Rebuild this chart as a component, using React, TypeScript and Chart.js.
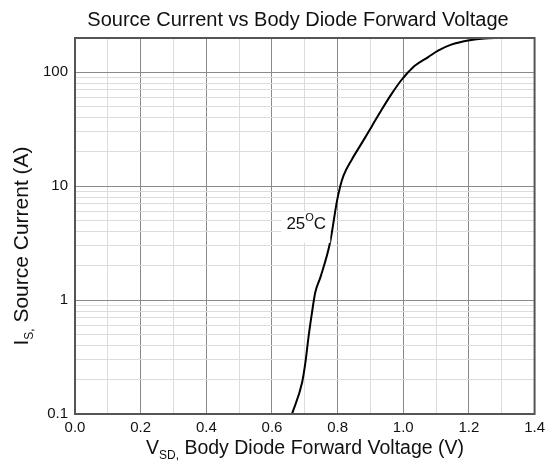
import React, { useEffect, useRef } from "react";
import { Chart, registerables } from "chart.js";

Chart.register(...registerables);

const vsd = [0.661, 0.692, 0.702, 0.712, 0.722, 0.732, 0.748, 0.777, 0.798, 0.808, 0.818, 0.843, 0.874, 0.904, 0.934, 0.965, 0.995, 1.012, 1.022, 1.035, 1.076, 1.106, 1.146, 1.202, 1.248, 1.293];
const isCurrent = [0.1, 0.19, 0.285, 0.49, 0.78, 1.17, 1.6, 3.2, 7.4, 10, 12.4, 17.1, 24, 33.5, 46.9, 65, 86, 98, 105, 114, 136, 155, 175, 191, 198, 200];
const yTickValues = [0.1, 0.2, 0.3, 0.4, 0.5, 0.6, 0.7, 0.8, 0.9, 1, 2, 3, 4, 5, 6, 7, 8, 9, 10, 20, 30, 40, 50, 60, 70, 80, 90, 100, 200];
const yLabelValues = [0.1, 1, 10, 100];
const xMin = 0;
const xMax = 1.4;
const yMin = 0.1;
const yMax = 200;
const chartTitle = "Source Current vs Body Diode Forward Voltage";
const curveLabel = { v: 0.7045, i: 4.67, main: "25", sup: "O", tail: "C" };

const FONT = "'Liberation Sans', Arial, sans-serif";

function drawSegments(ctx: CanvasRenderingContext2D, segs: { t: string; size: number; dy: number }[], x: number, y: number) {
  let total = 0;
  for (const s of segs) {
    ctx.font = `${s.size}px ${FONT}`;
    total += ctx.measureText(s.t).width;
  }
  let cx = x - total / 2;
  ctx.textAlign = "left";
  for (const s of segs) {
    ctx.font = `${s.size}px ${FONT}`;
    ctx.fillText(s.t, cx, y + s.dy);
    cx += ctx.measureText(s.t).width;
  }
}

const annotPlugin = {
  id: "annot",
  afterDatasetsDraw(chart: any) {
    const { ctx, chartArea, scales } = chart;
    const px = scales.x.getPixelForValue(curveLabel.v);
    const py = scales.y.getPixelForValue(curveLabel.i);
    ctx.save();
    ctx.fillStyle = "#ffffff";
    ctx.fillRect(px - 25, py - 12, 49, 31);
    ctx.fillStyle = "#111";
    ctx.textBaseline = "middle";
    drawSegments(
      ctx,
      [
        { t: curveLabel.main, size: 17, dy: 0 },
        { t: curveLabel.sup, size: 11, dy: -6 },
        { t: curveLabel.tail, size: 17, dy: 0 },
      ],
      px,
      py
    );
    ctx.strokeStyle = "#555";
    ctx.lineWidth = 2;
    ctx.strokeRect(chartArea.left, chartArea.top, chartArea.right - chartArea.left, chartArea.bottom - chartArea.top);
    ctx.restore();
  },
  afterDraw(chart: any) {
    const { ctx } = chart;
    ctx.save();
    ctx.fillStyle = "#111";
    ctx.textBaseline = "middle";
    ctx.font = `20px ${FONT}`;
    ctx.textAlign = "center";
    ctx.fillText(chartTitle, 298, 20);
    drawSegments(
      ctx,
      [
        { t: "V", size: 19.5, dy: 0 },
        { t: "SD,", size: 12, dy: 7 },
        { t: " Body Diode Forward Voltage (V)", size: 19.5, dy: 0 },
      ],
      305,
      449
    );
    ctx.translate(22, 246);
    ctx.rotate(-Math.PI / 2);
    drawSegments(
      ctx,
      [
        { t: "I", size: 21, dy: 0 },
        { t: "S,", size: 12, dy: 8 },
        { t: " Source Current (A)", size: 21, dy: 0 },
      ],
      0,
      0
    );
    ctx.restore();
  },
};

export default function App() {
  const ref = useRef<HTMLCanvasElement | null>(null);
  useEffect(() => {
    if (!ref.current) return;
    const chart = new Chart(ref.current, {
      type: "line",
      data: {
        datasets: [
          {
            data: vsd.map((v, i) => ({ x: v, y: isCurrent[i] })),
            borderColor: "#000",
            borderWidth: 2,
            pointRadius: 0,
            cubicInterpolationMode: "monotone",
          },
        ],
      },
      options: {
        animation: false,
        responsive: false,
        maintainAspectRatio: false,
        layout: { padding: { top: 38, right: 13, left: 0, bottom: 0 } },
        plugins: { legend: { display: false }, tooltip: { enabled: false }, title: { display: false } },
        scales: {
          x: {
            type: "linear",
            min: xMin,
            max: xMax,
            afterFit(scale: any) {
              scale.height = 52;
            },
            afterBuildTicks(scale: any) {
              const t = [];
              for (let k = 0; k <= 14; k++) t.push({ value: k / 10 });
              scale.ticks = t;
            },
            ticks: {
              padding: 5,
              color: "#111",
              font: { family: FONT, size: 15 },
              maxRotation: 0,
              autoSkip: false,
              callback: (v: any) => {
                const k = Math.round(Number(v) * 10);
                return k % 2 === 0 ? (k / 10).toFixed(1) : "";
              },
            },
            grid: {
              drawTicks: false,
              color: (c: any) => (Math.round(c.tick.value * 10) % 2 === 0 ? "#8a8a8a" : "#dcdcdc"),
              lineWidth: 1,
            },
            border: { color: "#555", width: 2 },
          },
          y: {
            type: "logarithmic",
            min: yMin,
            max: yMax,
            afterFit(scale: any) {
              scale.width = 75;
            },
            afterBuildTicks(scale: any) {
              scale.ticks = yTickValues.map((v) => ({ value: v }));
            },
            ticks: {
              padding: 7,
              color: "#111",
              font: { family: FONT, size: 15 },
              autoSkip: false,
              callback: (v: any) => {
                const n = Number(v);
                return yLabelValues.some((l) => Math.abs(l - n) < 1e-9) ? String(n) : "";
              },
            },
            grid: {
              drawTicks: false,
              color: (c: any) => (yLabelValues.some((l) => Math.abs(l - c.tick.value) < 1e-9) ? "#8a8a8a" : "#dcdcdc"),
              lineWidth: 1,
            },
            border: { color: "#555", width: 2 },
          },
        },
      },
      plugins: [annotPlugin],
    } as any);
    return () => chart.destroy();
  }, []);
  return (
    <div style={{ position: "fixed", left: 0, top: 0, width: 550, height: 466, background: "#fff" }}>
      <canvas ref={ref} width={550} height={466} style={{ width: 550, height: 466 }} />
    </div>
  );
}
